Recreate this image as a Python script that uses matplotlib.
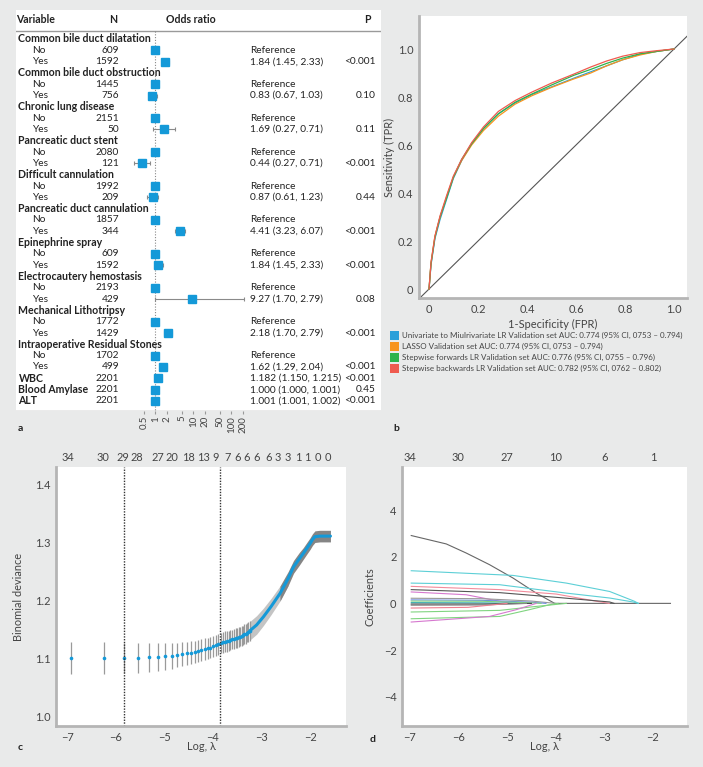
import matplotlib
matplotlib.use('Agg')
import matplotlib.pyplot as plt
from matplotlib.patches import Patch

plt.rcParams['font.family'] = ['Lato', 'DejaVu Sans']

W, H = 703, 767
BG = '#e9eaea'
BLUE = '#1499d8'
TXT = '#222222'
TICK = '#444444'
SPINE = '#b5b5b5'

# ---------------- panel a data (forest plot) ----------------
groups = ['Common bile duct dilatation', 'Common bile duct obstruction', 'Chronic lung disease',
          'Pancreatic duct stent', 'Difficult cannulation', 'Pancreatic duct cannulation',
          'Epinephrine spray', 'Electrocautery hemostasis', 'Mechanical Lithotripsy',
          'Intraoperative Residual Stones']
n_no = [609, 1445, 2151, 2080, 1992, 1857, 609, 2193, 1772, 1702]
n_yes = [1592, 756, 50, 121, 209, 344, 1592, 429, 1429, 499]
# odds ratio as drawn (marker) and whiskers as drawn
or_yes = [1.84, 0.83, 1.69, 0.44, 0.87, 4.41, 1.17, 9.27, 2.18, 1.62]
lo_yes = [1.45, 0.66, 0.86, 0.27, 0.61, 3.23, 0.95, 1.0, 1.70, 1.29]
hi_yes = [2.33, 1.08, 3.3, 0.71, 1.20, 6.07, 1.6, 210, 2.79, 2.04]
or_yes_text = ['1.84 (1.45, 2.33)', '0.83 (0.67, 1.03)', '1.69 (0.27, 0.71)', '0.44 (0.27, 0.71)',
               '0.87 (0.61, 1.23)', '4.41 (3.23, 6.07)', '1.84 (1.45, 2.33)', '9.27 (1.70, 2.79)',
               '2.18 (1.70, 2.79)', '1.62 (1.29, 2.04)']
p_yes = ['<0.001', '0.10', '0.11', '<0.001', '0.44', '<0.001', '<0.001', '0.08', '<0.001', '<0.001']

cont_names = ['WBC', 'Blood Amylase', 'ALT']
cont_n = [2201, 2201, 2201]
cont_or = [1.182, 1.000, 1.001]
cont_lo = [1.150, 1.000, 1.001]
cont_hi = [1.215, 1.001, 1.002]
cont_text = ['1.182 (1.150, 1.215)', '1.000 (1.000, 1.001)', '1.001 (1.001, 1.002)']
cont_p = ['<0.001', '0.45', '<0.001']
or_ticks = [0.5, 1, 2, 5, 10, 20, 50, 100, 200]

# ---------------- panel b data (ROC) ----------------
fpr = [0, 0.008, 0.024, 0.045, 0.072, 0.099, 0.133, 0.174, 0.222, 0.283,
       0.351, 0.419, 0.50, 0.59, 0.66, 0.725, 0.79, 0.861, 0.93, 1.0]
tpr_uni = [0, 0.10, 0.21, 0.29, 0.375, 0.46, 0.535, 0.607, 0.669, 0.73,
           0.775, 0.81, 0.842, 0.878, 0.905, 0.93, 0.955, 0.978, 0.99, 1.0]
tpr_lasso = [0, 0.11, 0.22, 0.30, 0.385, 0.465, 0.535, 0.60, 0.66, 0.72,
             0.77, 0.805, 0.84, 0.875, 0.90, 0.93, 0.955, 0.975, 0.99, 1.0]
tpr_fwd = [0, 0.105, 0.215, 0.30, 0.38, 0.465, 0.54, 0.605, 0.668, 0.73,
           0.778, 0.812, 0.85, 0.89, 0.915, 0.94, 0.962, 0.98, 0.99, 1.0]
tpr_bwd = [0, 0.11, 0.22, 0.305, 0.39, 0.47, 0.54, 0.61, 0.675, 0.74,
           0.785, 0.82, 0.858, 0.895, 0.925, 0.95, 0.97, 0.985, 0.993, 1.0]
roc_labels = ['Univariate to Miulrivariate LR Validation set AUC: 0.774 (95% CI, 0753 \u2013 0.794)',
              'LASSO Validation set AUC: 0.774 (95% CI, 0753 \u2013 0.794)',
              'Stepwise forwards LR Validation set AUC: 0.776 (95% CI, 0755 \u2013 0.796)',
              'Stepwise backwards LR Validation set AUC: 0.782 (95% CI, 0762 \u2013 0.802)']
roc_ticks = [0, 0.2, 0.4, 0.6, 0.8, 1.0]
roc_ticklabels = ['0', '0.2', '0.4', '0.6', '0.8', '1.0']

# ---------------- panel c data (CV deviance) ----------------
cv_loglam = [-6.93, -6.24, -5.83, -5.55, -5.32, -5.14, -4.99, -4.85, -4.73, -4.63,
             -4.53, -4.45, -4.37, -4.30, -4.24, -4.17, -4.11, -4.05, -3.99, -3.94,
             -3.89, -3.84, -3.80, -3.75, -3.71, -3.67, -3.64, -3.60, -3.56, -3.53,
             -3.50, -3.47, -3.44, -3.41, -3.38, -3.35, -3.32, -3.30, -3.27, -3.24]
cv_dev = [1.101, 1.101, 1.101, 1.101, 1.102, 1.103, 1.104, 1.105, 1.106, 1.108,
          1.109, 1.110, 1.112, 1.113, 1.115, 1.116, 1.118, 1.119, 1.121, 1.123,
          1.125, 1.127, 1.128, 1.129, 1.130, 1.131, 1.132, 1.133, 1.134, 1.135,
          1.136, 1.137, 1.138, 1.139, 1.140, 1.142, 1.143, 1.145, 1.146, 1.148]
cv_se = [0.027, 0.027, 0.026, 0.026, 0.025, 0.024, 0.023, 0.022, 0.021, 0.020,
         0.020, 0.020, 0.019, 0.019, 0.019, 0.019, 0.018, 0.018, 0.018, 0.018,
         0.018, 0.018, 0.018, 0.018, 0.018, 0.017, 0.017, 0.017, 0.017, 0.017,
         0.017, 0.017, 0.017, 0.017, 0.017, 0.017, 0.017, 0.017, 0.017, 0.017]
dense_loglam = [-3.24, -3.10, -2.96, -2.80, -2.62, -2.45, -2.34, -2.22, -2.14, -2.05,
                -2.00, -1.95, -1.90, -1.80, -1.70, -1.58]
dense_dev = [1.148, 1.158, 1.172, 1.190, 1.212, 1.238, 1.258, 1.272, 1.281, 1.292,
             1.298, 1.305, 1.310, 1.311, 1.311, 1.311]
dense_se = [0.016, 0.016, 0.015, 0.014, 0.013, 0.012, 0.011, 0.011, 0.010, 0.010,
            0.010, 0.010, 0.010, 0.010, 0.010, 0.010]
lam_min, lam_1se = -5.83, -3.85
c_top_pos = [-6.98, -6.26, -5.85, -5.56, -5.13, -4.84, -4.51, -4.20, -3.95, -3.70,
             -3.50, -3.30, -3.09, -2.86, -2.66, -2.45, -2.25, -2.06, -1.84, -1.63]
c_top_lab = ['34', '30', '29', '28', '27', '20', '18', '13', '9', '7',
             '6', '6', '6', '6', '3', '3', '1', '1', '0', '0']

# ---------------- panel d data (coefficient paths) ----------------
path_lam = [
    [-6.97, -6.25, -5.84, -5.36, -4.88, -4.40, -4.02, -1.64],
    [-6.97, -4.88, -3.78, -2.89, -2.38, -2.30],
    [-6.97, -5.15, -3.78, -2.89, -2.41, -2.30],
    [-6.97, -5.15, -3.99, -3.16, -2.90],
    [-6.97, -5.15, -3.99, -2.89, -2.80],
    [-6.97, -5.84, -5.15, -4.90],
    [-6.97, -5.50, -4.50, -4.00],
    [-6.97, -5.50, -4.50, -4.20],
    [-6.97, -5.50, -4.60, -4.30],
    [-6.97, -5.50, -4.80],
    [-6.97, -5.50, -4.50],
    [-6.97, -5.50, -4.60],
    [-6.97, -5.80, -5.00],
    [-6.97, -5.15, -4.40, -3.78],
    [-6.97, -5.15, -4.54, -4.13, -3.95],
    [-6.97, -5.36, -4.81, -4.40],
]
path_coef = [
    [2.91, 2.55, 2.16, 1.66, 1.09, 0.44, 0.0, 0.0],
    [1.40, 1.20, 0.87, 0.51, 0.09, 0.0],
    [0.87, 0.80, 0.44, 0.23, 0.06, 0.0],
    [0.73, 0.59, 0.40, 0.09, 0.0],
    [0.59, 0.46, 0.26, 0.06, 0.0],
    [0.49, 0.37, 0.09, 0.0],
    [0.22, 0.20, 0.10, 0.0],
    [0.15, 0.13, 0.05, 0.0],
    [0.10, 0.09, 0.03, 0.0],
    [0.03, 0.02, 0.0],
    [-0.03, -0.03, 0.0],
    [-0.08, -0.07, 0.0],
    [-0.20, -0.17, 0.0],
    [-0.37, -0.30, -0.13, 0.0],
    [-0.66, -0.56, -0.27, -0.06, 0.0],
    [-0.80, -0.56, -0.27, 0.0],
]
d_top_pos = [-7, -6, -5, -4, -3, -2]
d_top_lab = ['34', '30', '27', '10', '6', '1']
path_colors = ['#666666', '#5ccfd6', '#5ccfd6', '#f28b9b', '#555555', '#d678cf',
               '#999999', '#6f8be0', '#80d480', '#2aa7a8', '#444444', '#888888',
               '#f07f8f', '#80d480', '#80d480', '#d678cf']

LS = 7.9  # tick label size


def box(x0, y0, x1, y1):
    # pixel box -> figure fraction
    return [x0 / W, 1 - y1 / H, (x1 - x0) / W, (y1 - y0) / H]


def style_axes(ax):
    for s in ['top', 'right']:
        ax.spines[s].set_visible(False)
    for s in ['left', 'bottom']:
        ax.spines[s].set_color(SPINE)
        ax.spines[s].set_linewidth(2)
    ax.tick_params(length=0, labelsize=LS, colors=TICK, pad=4)


fig = plt.figure(figsize=(W / 100, H / 100), dpi=100, facecolor=BG)

# ================= panel a =================
FB = 7.6   # bold headers
FS = 7.25  # regular text
ylim_rows = (32.89, -2.56)
ax_a = fig.add_axes(box(16, 10, 381, 411))
ax_a.set_xlim(16, 381)
ax_a.set_ylim(*ylim_rows)
ax_a.set_xticks([])
ax_a.set_yticks([])
for s in ax_a.spines.values():
    s.set_visible(False)
ax_a.axhline(-0.71, color='#9a9a9a', lw=1)
ax_a.axhline(32.85, color='#9a9a9a', lw=1)

hy = -1.68
ax_a.text(16.5, hy, 'Variable', fontsize=FB, fontweight='bold', va='center', color=TXT)
ax_a.text(113, hy, 'N', fontsize=FB, fontweight='bold', va='center', ha='center', color=TXT)
ax_a.text(166, hy, 'Odds ratio', fontsize=FB, fontweight='bold', va='center', color=TXT)
ax_a.text(367, hy, 'P', fontsize=FB, fontweight='bold', va='center', ha='center', color=TXT)

rows_ref, rows_yes = [], []
r = 0
for i, g in enumerate(groups):
    ax_a.text(18.5, r, g, fontsize=FB, fontweight='bold', va='center', color=TXT)
    ax_a.text(32.5, r + 1, 'No', fontsize=FS, va='center', color=TXT)
    ax_a.text(32.5, r + 2, 'Yes', fontsize=FS, va='center', color=TXT)
    ax_a.text(119, r + 1, str(n_no[i]), fontsize=FS, va='center', ha='right', color=TXT)
    ax_a.text(119, r + 2, str(n_yes[i]), fontsize=FS, va='center', ha='right', color=TXT)
    ax_a.text(250, r + 1, 'Reference', fontsize=FS, va='center', color=TXT)
    ax_a.text(250, r + 2, or_yes_text[i], fontsize=FS, va='center', color=TXT)
    ax_a.text(375.5, r + 2, p_yes[i], fontsize=FS, va='center', ha='right', color=TXT)
    rows_ref.append(r + 1)
    rows_yes.append(r + 2)
    r += 3
rows_cont = []
for i, name in enumerate(cont_names):
    ax_a.text(18.5, r, name, fontsize=FB, fontweight='bold', va='center', color=TXT)
    ax_a.text(119, r, str(cont_n[i]), fontsize=FS, va='center', ha='right', color=TXT)
    ax_a.text(250, r, cont_text[i], fontsize=FS, va='center', color=TXT)
    ax_a.text(375.5, r, cont_p[i], fontsize=FS, va='center', ha='right', color=TXT)
    rows_cont.append(r)
    r += 1

ax_f = fig.add_axes(box(130, 10, 250, 411))
ax_f.set_xscale('log')
ax_f.set_xlim(0.215, 308)
ax_f.set_ylim(*ylim_rows)
ax_f.patch.set_visible(False)
for s in ax_f.spines.values():
    s.set_visible(False)
ax_f.set_yticks([])
ax_f.minorticks_off()
ax_f.set_xticks(or_ticks)
ax_f.set_xticklabels([str(t) for t in or_ticks], rotation=90)
ax_f.tick_params(axis='x', length=2, color='#999999', labelsize=7.0, labelcolor=TICK, pad=1.5)
ax_f.plot([1, 1], [-0.71, 32.85], color='#888888', lw=0.8, ls=(0, (1, 1.5)))

ax_f.errorbar(or_yes, rows_yes,
              xerr=[[o - l for o, l in zip(or_yes, lo_yes)], [h - o for o, h in zip(or_yes, hi_yes)]],
              fmt='none', ecolor='#8a8a8a', elinewidth=0.8, capsize=1.5, capthick=0.8)
ax_f.errorbar(cont_or, rows_cont,
              xerr=[[o - l for o, l in zip(cont_or, cont_lo)], [h - o for o, h in zip(cont_or, cont_hi)]],
              fmt='none', ecolor='#8a8a8a', elinewidth=0.8, capsize=1.5, capthick=0.8)
ax_f.plot([1] * len(rows_ref), rows_ref, 's', color=BLUE, ms=5.2, mec=BLUE)
ax_f.plot(or_yes, rows_yes, 's', color=BLUE, ms=5.2, mec=BLUE)
ax_f.plot(cont_or, rows_cont, 's', color=BLUE, ms=5.2, mec=BLUE)

# ================= panel b =================
ax_b = fig.add_axes(box(419, 16, 687, 298))
style_axes(ax_b)
ax_b.set_xlim(-0.041, 1.053)
ax_b.set_ylim(-0.0375, 1.1375)
ax_b.axline((0, 0), (1, 1), color='#555555', lw=0.8)
roc_colors = ['#2b9fd9', '#f7941d', '#2db34a', '#ef5b4f']
for t, c in zip([tpr_uni, tpr_lasso, tpr_fwd, tpr_bwd], roc_colors):
    ax_b.plot(fpr, t, color=c, lw=0.9)
ax_b.set_xticks(roc_ticks)
ax_b.set_xticklabels(roc_ticklabels)
ax_b.set_yticks(roc_ticks)
ax_b.set_yticklabels(roc_ticklabels)
ax_b.set_xlabel('1-Specificity (FPR)', fontsize=LS, color=TICK, labelpad=3)
ax_b.set_ylabel('Sensitivity (TPR)', fontsize=LS, color=TICK, labelpad=2)
handles = [Patch(facecolor=c, edgecolor='none') for c in roc_colors]
fig.legend(handles, roc_labels, loc='upper left', bbox_to_anchor=(390 / W, 1 - 331 / H),
           frameon=False, fontsize=5.8, handlelength=1.1, handleheight=1.3,
           handletextpad=0.45, labelspacing=0.28, borderpad=0, borderaxespad=0,
           labelcolor=TICK)

# ================= panel c =================
ax_c = fig.add_axes(box(56, 467, 346, 726))
style_axes(ax_c)
ax_c.set_xlim(-7.23, -1.26)
ax_c.set_ylim(0.984, 1.43)
ax_c.fill_between(dense_loglam, [d - s for d, s in zip(dense_dev, dense_se)],
                  [d + s for d, s in zip(dense_dev, dense_se)],
                  where=[x <= -2.55 for x in dense_loglam], interpolate=True,
                  color='#c4c4c4', lw=0)
ax_c.fill_between(dense_loglam, [d - s for d, s in zip(dense_dev, dense_se)],
                  [d + s for d, s in zip(dense_dev, dense_se)],
                  where=[x >= -2.62 for x in dense_loglam], interpolate=True,
                  color='#858585', lw=0)
ax_c.errorbar(cv_loglam, cv_dev, yerr=cv_se, fmt='none', ecolor='#9a9a9a', elinewidth=0.9, capsize=0)
ax_c.plot(cv_loglam, cv_dev, 'o', color=BLUE, ms=2.6, mec='none')
ax_c.plot(dense_loglam, dense_dev, color=BLUE, lw=2.2, solid_capstyle='round')
ax_c.axvline(lam_min, color='#333333', lw=1, ls=(0, (1, 1)))
ax_c.axvline(lam_1se, color='#333333', lw=1, ls=(0, (1, 1)))
ax_c.set_xticks([-7, -6, -5, -4, -3, -2])
ax_c.set_yticks([1.0, 1.1, 1.2, 1.3, 1.4])
ax_c.set_yticklabels(['1.0', '1.1', '1.2', '1.3', '1.4'])
ax_c.set_xlabel('Log, \u03bb', fontsize=LS, color=TICK, labelpad=-1)
ax_c.set_ylabel('Binomial deviance', fontsize=LS, color=TICK, labelpad=8)
ax_c2 = ax_c.twiny()
ax_c2.set_xlim(ax_c.get_xlim())
ax_c2.set_xticks(c_top_pos)
ax_c2.set_xticklabels(c_top_lab)
ax_c2.tick_params(length=0, labelsize=LS, colors=TICK, pad=3)
for s in ax_c2.spines.values():
    s.set_visible(False)

# ================= panel d =================
ax_d = fig.add_axes(box(402, 467, 687, 726))
style_axes(ax_d)
ax_d.set_xlim(-7.16, -1.3)
ax_d.set_ylim(-5.26, 5.85)
for xs, ys, c in zip(path_lam, path_coef, path_colors):
    ax_d.plot(xs, ys, color=c, lw=0.8)
ax_d.set_xticks([-7, -6, -5, -4, -3, -2])
ax_d.set_yticks([-4, -2, 0, 2, 4])
ax_d.set_xlabel('Log, \u03bb', fontsize=LS, color=TICK, labelpad=-1)
ax_d.set_ylabel('Coefficients', fontsize=LS, color=TICK, labelpad=6)
ax_d2 = ax_d.twiny()
ax_d2.set_xlim(ax_d.get_xlim())
ax_d2.set_xticks(d_top_pos)
ax_d2.set_xticklabels(d_top_lab)
ax_d2.tick_params(length=0, labelsize=LS, colors=TICK, pad=3)
for s in ax_d2.spines.values():
    s.set_visible(False)

# panel letters
for lab, x, y in [('a', 18, 429), ('b', 393, 429), ('c', 18, 747), ('d', 370, 740)]:
    fig.text(x / W, 1 - y / H, lab, fontsize=7.5, fontweight='bold', color=TXT, va='center')

fig.savefig('out.png', dpi=100, facecolor=BG)
